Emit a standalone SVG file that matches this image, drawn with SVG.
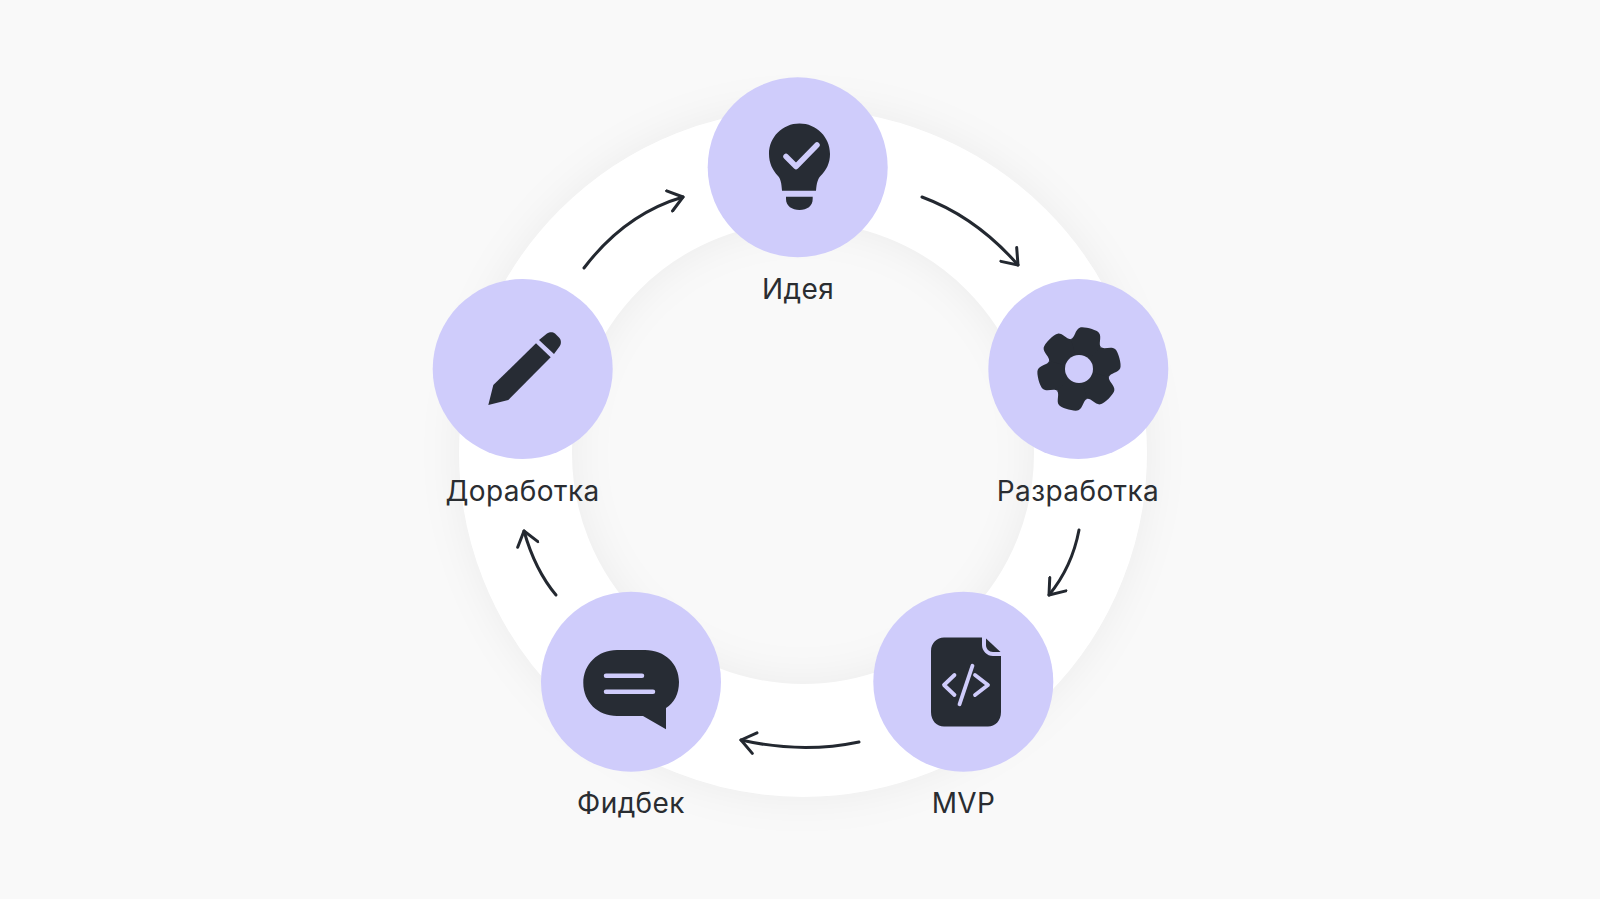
<svg xmlns="http://www.w3.org/2000/svg" xmlns:xlink="http://www.w3.org/1999/xlink" width="1600" height="899" viewBox="0 0 1600 899">
<style>
.node{fill:#cfccfb}
.ic{fill:#272c34}
.cut{fill:none;stroke:#cfccfb;stroke-linecap:round;stroke-linejoin:round}
.lbl{font-family:"Inter","Noto Sans",sans-serif;font-size:28px;letter-spacing:.4px;fill:#2a2d31;text-anchor:middle}
.arr{fill:none;stroke:#232830;stroke-width:3;stroke-linecap:round;marker-end:url(#ah)}
</style>
<defs>
<marker id="ah" viewBox="-16 -12 20 24" markerUnits="userSpaceOnUse" markerWidth="20" markerHeight="24" refX="0" refY="0" orient="auto">
<path d="M-14 -10.500L0 0L-14 10.500" fill="none" stroke="#232830" stroke-width="3" stroke-linecap="round" stroke-linejoin="round"/>
</marker>
<filter id="sh" x="-20%" y="-20%" width="140%" height="140%"><feGaussianBlur stdDeviation="20"/></filter>
<path id="lobe" d="M0 0L-15.500 -26.800C-12 -29 -14 -37 -10 -40C-7 -42.500 7 -42.500 10 -40C14 -37 12 -29 15.500 -26.800Z"/>
</defs>
<rect width="1600" height="899" fill="#f9f9f9"/>
<g id="ring">
<circle cx="803" cy="453" r="287" fill="none" stroke="#000" stroke-opacity=".05" stroke-width="116" filter="url(#sh)"/>
<circle cx="803" cy="453" r="287.500" fill="none" stroke="#fff" stroke-width="113"/>
</g>
<g id="connectors">
<path class="arr" d="M584 268Q625 214 683 197"/>
<path class="arr" d="M922 197Q976 217 1018 265"/>
<path class="arr" d="M1079 530Q1072 567 1049 595"/>
<path class="arr" d="M859 742Q802 754 741 740"/>
<path class="arr" d="M556 595Q535 570 524 531"/>
</g>
<g id="node-idea">
<circle class="node" cx="797.700" cy="167.300" r="90"/>
<path class="ic" d="M799.500 123.500C816.500 123.500 830 137 830 154C830 163 826.500 170 820.500 176C818 178.500 816.500 183 816 190.700H782C781.500 183 780.500 178.500 778 176C772.500 170 769 163 769 154C769 137 782.500 123.500 799.500 123.500Z"/>
<path class="ic" d="M786 196.700H812.700V199C812.700 206 807 210 799.500 210C792 210 786 206 786 199Z"/>
<path class="cut" stroke-width="5.500" d="M786 156.500L796 166.500L817 145"/>
<text class="lbl" x="798" y="298.500">Идея</text>
</g>
<g id="node-dev">
<circle class="node" cx="1078.300" cy="369" r="90"/>
<g class="ic" transform="translate(1079 369)">
<circle r="30"/>
<use xlink:href="#lobe" transform="rotate(15)"/>
<use xlink:href="#lobe" transform="rotate(75)"/>
<use xlink:href="#lobe" transform="rotate(135)"/>
<use xlink:href="#lobe" transform="rotate(195)"/>
<use xlink:href="#lobe" transform="rotate(255)"/>
<use xlink:href="#lobe" transform="rotate(315)"/>
</g>
<circle cx="1079" cy="369" r="14" fill="#cfccfb"/>
<text class="lbl" x="1078" y="500.500">Разработка</text>
</g>
<g id="node-mvp">
<circle class="node" cx="963.300" cy="681.700" r="90"/>
<path class="ic" d="M944 637.500H982V645C982 651 987 656 993 656H1001V712C1001 721 995 726.500 988 726.500H944C937 726.500 931 721 931 712V651C931 643 937 637.500 944 637.500Z"/>
<path class="ic" d="M986 638.500L1000.500 652H993C989 652 986 649 986 645Z"/>
<path class="cut" stroke-width="3.800" stroke-linecap="butt" stroke-linejoin="miter" d="M954.500 675L944 685L954.500 695M975 675L988 685L975 695M972.500 665.700L959.500 704.300"/>
<text class="lbl" x="963.500" y="812.500">MVP</text>
</g>
<g id="node-feedback">
<circle class="node" cx="631" cy="681.700" r="90"/>
<path class="ic" d="M617 650H645C665 650 679 664 679 682C679 694 674 703 666 708V729.300L643 716H617C598 716 583.300 702 583.300 683C583.300 664 598 650 617 650Z"/>
<path class="cut" stroke-width="4.500" d="M606 675.700H642M606 691.700H653"/>
<text class="lbl" x="631" y="812.500">Фидбек</text>
</g>
<g id="node-rework">
<circle class="node" cx="522.700" cy="369" r="90"/>
<path class="ic" d="M539 340L547 333.500C550 331.500 553 332 555 333.500L559 337.500C561.500 340 561.500 344 559.500 346.500L554 354Z"/>
<path class="ic" d="M536 343.300L550.700 357.300L508.300 400L488.300 405L493.300 385Z"/>
<text class="lbl" x="522.500" y="500.500">Доработка</text>
</g>
</svg>
